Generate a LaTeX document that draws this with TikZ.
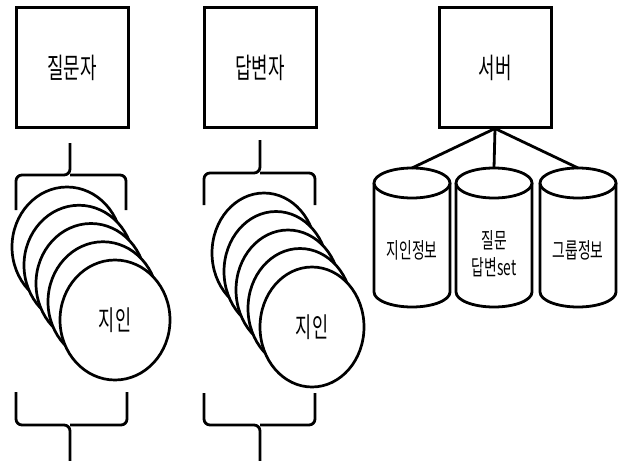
\documentclass[tikz,border=0pt]{standalone}
\usepackage{graphicx}
\usepackage{fontspec}
\newfontfamily\kr{Noto Sans CJK KR}
\usetikzlibrary{shapes.geometric}
\newcommand\kstr[1]{\scalebox{0.92}[1.45]{#1}}
\tikzset{
  boxnode/.style={draw, line width=3pt, minimum width=112pt, minimum height=119pt, inner sep=0pt, font=\kr\fontsize{19.5}{21}\selectfont},
  ln/.style={line width=2.8pt},
  bracepath/.style={line width=2.8pt, rounded corners=6pt},
  friendA/.style={ellipse, draw, fill=white, line width=2.7pt, minimum width=110pt, minimum height=120pt, inner sep=0pt, font=\kr\fontsize{19}{21}\selectfont},
  friendB/.style={ellipse, draw, fill=white, line width=2.7pt, minimum width=104pt, minimum height=120pt, inner sep=0pt, font=\kr\fontsize{19}{21}\selectfont},
  cyltext/.style={inner sep=0pt, font=\kr\fontsize{15}{17}\selectfont, align=center},
}
\begin{document}
\begin{tikzpicture}[x=1pt,y=-1pt]
\useasboundingbox[fill=white] (0,0) rectangle (620,460);

% boxes
\node[boxnode] (q) at (72,67.5) {\kstr{질문자}};
\node[boxnode] (a) at (260,67.5) {\kstr{답변자}};
\node[boxnode] (srv) at (495,67.5) {\kstr{서버}};

% braces group 1
\coordinate (q1l) at (16,210);
\coordinate (q1r) at (126,210);
\coordinate (q1m) at (70,175);
\coordinate (q1t) at (70,143);
\draw[bracepath] (q1l) |- (q1m) -- (q1t);
\draw[bracepath] (q1r) |- (q1m);
\coordinate (q2l) at (16,392);
\coordinate (q2r) at (127,392);
\coordinate (q2m) at (70,425);
\coordinate (q2b) at (70,462);
\draw[bracepath] (q2l) |- (q2m) -- (q2b);
\draw[bracepath] (q2r) |- (q2m);

% braces group 2
\coordinate (a1l) at (204,205);
\coordinate (a1r) at (315,205);
\coordinate (a1m) at (260,173);
\coordinate (a1t) at (260,140);
\draw[bracepath] (a1l) |- (a1m) -- (a1t);
\draw[bracepath] (a1r) |- (a1m);
\coordinate (a2l) at (204,393);
\coordinate (a2r) at (315,393);
\coordinate (a2m) at (260,425);
\coordinate (a2b) at (260,462);
\draw[bracepath] (a2l) |- (a2m) -- (a2b);
\draw[bracepath] (a2r) |- (a2m);

% friend stacks
\node[friendA] (fq1) at (67,247) {};
\node[friendA] (fq2) at (79,265.25) {};
\node[friendA] (fq3) at (91,283.5) {};
\node[friendA] (fq4) at (103,301.75) {};
\node[friendA] (fq5) at (115,320) {\kstr{지인}};

\node[friendB] (fa1) at (264,253) {};
\node[friendB] (fa2) at (276,271.5) {};
\node[friendB] (fa3) at (288,290) {};
\node[friendB] (fa4) at (300,308.5) {};
\node[friendB] (fa5) at (312,327) {\kstr{지인}};

% cylinders
\foreach \n/\x in {c1/412,c2/494,c3/578}{
  \draw[ln, fill=white] (\x-38,183) -- (\x-38,292) arc[start angle=180, end angle=0, x radius=38, y radius=15] -- (\x+38,183);
  \draw[ln, fill=white] (\x,183) ellipse[x radius=38, y radius=15];
  \coordinate (\n) at (\x,168);
}
\node[cyltext] (t1) at (412,250) {\kstr{지인정보}};
\node[cyltext] (t2a) at (494,240) {\kstr{질문}};
\node[cyltext] (t2b) at (494,267) {\kstr{답변set}};
\node[cyltext] (t3) at (578,250) {\kstr{그룹정보}};

\draw[ln] (srv.south) -- (c1);
\draw[ln] (srv.south) -- (c2);
\draw[ln] (srv.south) -- (c3);
\end{tikzpicture}
\end{document}
